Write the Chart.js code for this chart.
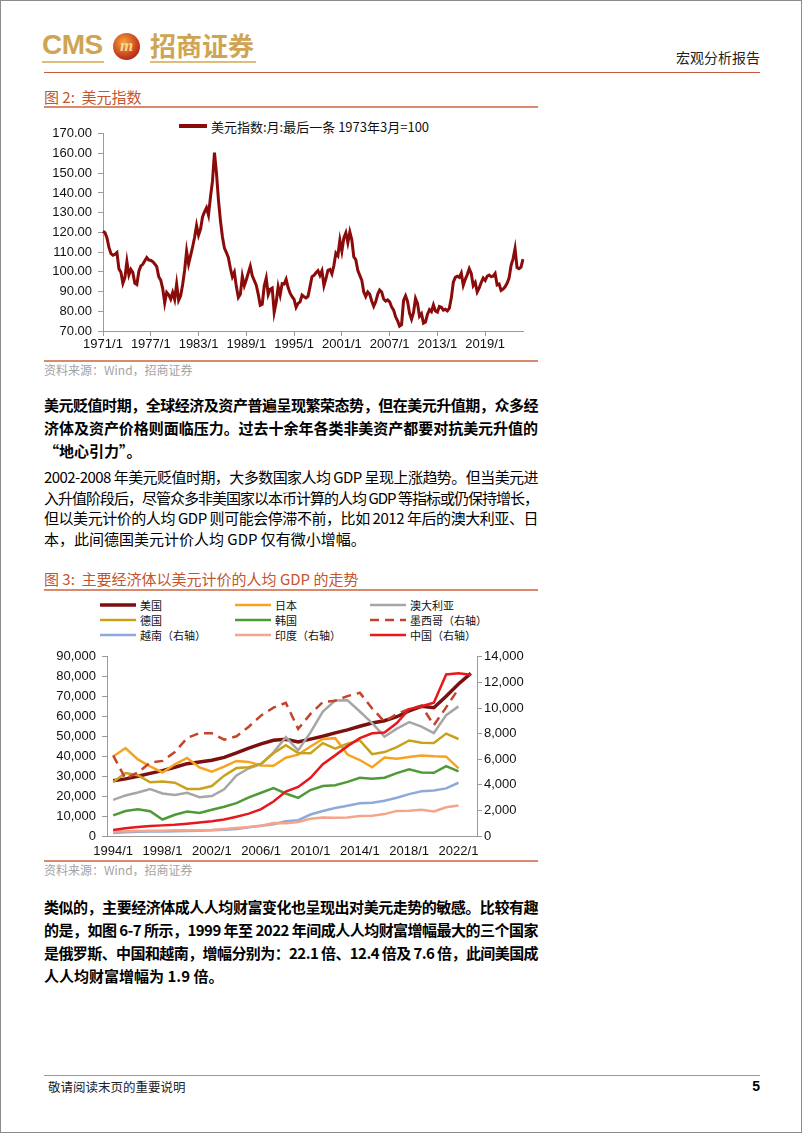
<!DOCTYPE html>
<html lang="zh-CN">
<head>
<meta charset="utf-8">
<title>宏观分析报告 - 美元指数与人均GDP</title>
<script src="https://cdn.jsdelivr.net/npm/chart.js@4.4.1/dist/chart.umd.min.js"></script>
<style>
  html, body { margin: 0; padding: 0; background: #fff; }
  body { font-family: "Noto Sans CJK SC", "Liberation Sans", sans-serif; color: #000; }
  .page { position: relative; width: 802px; height: 1133px; overflow: hidden; box-shadow: inset 0 0 0 1px #8c8c8c; }
  .abs { position: absolute; }
  .rule { position: absolute; left: 44px; width: 494px; height: 2px; background: #d98a6e; }
  .fig-title { position: absolute; left: 44px; font-size: 15px; line-height: 20px; color: #c4552f; }
  .source { position: absolute; left: 44px; font-size: 12px; line-height: 16px; color: #a3a3a3; }
  .para { position: absolute; left: 44px; width: 494px; font-size: 15px; line-height: 23px; }
  .para.bold { font-weight: 700; }
  .para.plain { line-height: 20.7px; }
  .jl { white-space: nowrap; }
  .legend-item { position: absolute; display: flex; align-items: center; height: 14px; font-size: 11px; color: #111; white-space: nowrap; }
  .legend-item svg { margin-right: 4px; }
  canvas { position: absolute; }
</style>
</head>
<body>
<div class="page">
  <!-- header -->
  <div class="abs" style="left:42px;top:29px;font-family:'Liberation Sans',sans-serif;font-weight:700;font-size:28px;line-height:32px;color:#cfa453;letter-spacing:-0.5px;">CMS</div>
  <div class="abs" style="left:42px;top:61px;width:62px;height:2px;background:#dcbd7c;"></div>
  <div class="abs" style="left:113px;top:33px;width:27px;height:27px;border-radius:50%;background:radial-gradient(circle at 40% 35%, #f4a540, #c53a1c 62%, #7a1e0e);color:#f7d98e;font:italic 700 17px 'Liberation Serif',serif;line-height:26px;text-align:center;">m</div>
  <div class="abs" style="left:150px;top:29px;font-weight:700;font-size:26px;line-height:32px;color:#cfa453;">招商证券</div>
  <div class="abs" style="left:150px;top:61px;width:106px;height:2px;background:#dcbd7c;"></div>
  <div class="abs" style="right:42px;top:48px;font-size:14px;line-height:18px;color:#222;">宏观分析报告</div>
  <div class="abs" style="left:44px;top:72px;width:716px;height:1px;background:#c65b45;"></div>

  <!-- figure 2 -->
  <div class="fig-title" style="top:87px;">图 2:&nbsp; 美元指数</div>
  <div class="rule" style="top:106px;"></div>
  <div class="legend-item" id="dxyLegend" style="left:179px;top:118px;font-size:13px;height:16px;"></div>
  <canvas id="dxyChart" width="494" height="240" style="left:44px;top:120px;"></canvas>
  <div class="rule" style="top:360px;"></div>
  <div class="source" style="top:362px;">资料来源：Wind，招商证券</div>

  <div class="para bold" style="top:393px;">
    <div class="jl full"><span>美元贬值时期，全球经济及资产普遍呈现繁荣态势，但在美元升值期，众多经</span></div>
    <div class="jl full"><span>济体及资产价格则面临压力。过去十余年各类非美资产都要对抗美元升值的</span></div>
    <div class="jl"><span>“地心引力”。</span></div>
  </div>

  <div class="para plain" style="top:467px;">
    <div class="jl full"><span>2002-2008 年美元贬值时期，大多数国家人均 GDP 呈现上涨趋势。但当美元进</span></div>
    <div class="jl full"><span>入升值阶段后，尽管众多非美国家以本币计算的人均 GDP 等指标或仍保持增长，</span></div>
    <div class="jl full"><span>但以美元计价的人均 GDP 则可能会停滞不前，比如 2012 年后的澳大利亚、日</span></div>
    <div class="jl"><span>本，此间德国美元计价人均 GDP 仅有微小增幅。</span></div>
  </div>

  <!-- figure 3 -->
  <div class="fig-title" style="top:569px;">图 3:&nbsp; 主要经济体以美元计价的人均 GDP 的走势</div>
  <div class="rule" style="top:589px;"></div>
  <div id="gdpLegend"></div>
  <canvas id="gdpChart" width="494" height="217" style="left:44px;top:643px;"></canvas>
  <div class="rule" style="top:860px;"></div>
  <div class="source" style="top:862px;">资料来源：Wind，招商证券</div>

  <div class="para bold" style="top:895px;">
    <div class="jl full"><span>类似的，主要经济体成人人均财富变化也呈现出对美元走势的敏感。比较有趣</span></div>
    <div class="jl full"><span>的是，如图 6-7 所示，1999 年至 2022 年间成人人均财富增幅最大的三个国家</span></div>
    <div class="jl full"><span>是俄罗斯、中国和越南，增幅分别为：22.1 倍、12.4 倍及 7.6 倍，此间美国成</span></div>
    <div class="jl"><span>人人均财富增幅为 1.9 倍。</span></div>
  </div>

  <!-- footer -->
  <div class="abs" style="left:44px;top:1075px;width:716px;height:1px;background:#9a9a9a;"></div>
  <div class="abs" style="left:48px;top:1078px;font-size:12.5px;line-height:17px;color:#222;">敬请阅读末页的重要说明</div>
  <div class="abs" style="right:42px;top:1077px;font-family:'Liberation Sans',sans-serif;font-weight:700;font-size:14px;line-height:18px;">5</div>
</div>

<script>
// 美元指数（季度取样，月末值）
const dxyValues = [
  120.6, 119.8, 117.2, 112.4, // 1971
  109.2, 108.4, 108.9, 109.8, // 1972
  101.5, 99.8, 94.2, 97.0,    // 1973
  105.2, 98.4, 101.2, 99.6,   // 1974
  94.2, 93.6, 100.2, 103.0,   // 1975
  103.8, 105.6, 107.2, 106.0, // 1976
  105.8, 105.2, 104.0, 102.6, // 1977
  97.5, 95.8, 91.5, 84.2,     // 1978
  89.6, 88.4, 86.2, 89.5,     // 1979
  86.0, 93.8, 85.6, 87.8,     // 1980
  93.5, 100.8, 110.5, 104.0,  // 1981
  108.2, 112.6, 117.4, 123.5, // 1982
  118.6, 121.6, 127.8, 130.4, // 1983
  132.5, 128.8, 138.0, 146.0, // 1984
  160.5, 150.2, 136.5, 126.0, // 1985
  117.8, 112.0, 109.8, 107.2, // 1986
  101.8, 97.5, 99.8, 92.5,    // 1987
  87.0, 88.6, 97.8, 93.0,     // 1988
  96.0, 99.5, 102.8, 98.0,    // 1989
  95.6, 93.2, 88.6, 83.0,     // 1990
  83.5, 92.8, 96.8, 88.5,     // 1991
  91.2, 91.8, 79.5, 84.6,     // 1992
  92.5, 88.2, 94.0, 93.8,     // 1993
  96.2, 92.0, 89.2, 87.4,     // 1994
  86.0, 82.0, 84.0, 84.8,     // 1995
  88.2, 87.4, 86.8, 87.6,     // 1996
  92.5, 97.6, 98.2, 99.5,     // 1997
  100.6, 98.2, 100.5, 93.0,   // 1998
  96.5, 100.8, 101.2, 99.0,   // 1999
  103.2, 109.5, 108.2, 116.0, // 2000
  110.5, 117.2, 119.8, 114.8, // 2001
  120.2, 116.2, 107.6, 106.2, // 2002
  100.8, 98.2, 95.8, 89.8,    // 2003
  87.5, 89.8, 88.6, 85.2,     // 2004
  82.5, 84.8, 88.6, 90.8,     // 2005
  89.8, 86.2, 85.2, 85.8,     // 2006
  84.8, 82.2, 80.6, 77.2,     // 2007
  75.2, 72.5, 73.2, 85.5,     // 2008
  87.8, 85.0, 79.0, 76.0,     // 2009
  79.4, 86.5, 84.0, 77.5,     // 2010
  78.8, 74.0, 74.6, 78.4,     // 2011
  80.8, 79.8, 83.2, 80.2,     // 2012
  79.6, 82.4, 82.0, 80.6,     // 2013
  81.0, 80.2, 81.6, 86.8,     // 2014
  94.8, 97.2, 97.8, 97.2,     // 2015
  99.4, 93.2, 96.2, 98.6,     // 2016
  101.6, 99.2, 93.0, 94.6,    // 2017
  89.8, 91.8, 94.6, 96.8,     // 2018
  95.6, 97.8, 98.4, 97.6,     // 2019
  97.8, 99.2, 93.4, 93.8,     // 2020
  90.6, 91.2, 92.4, 94.2,     // 2021
  96.8, 103.2, 106.6, 111.8,  // 2022
  102.2, 101.6, 102.4, 106.4, // 2023
];
const dxyLabels = [];
for (let year = 1971; year <= 2023; year += 1) {
  [1, 4, 7, 10].forEach((month) => dxyLabels.push(`${year}/${month}`));
}
const dxyYTicks = { min: 70, max: 170, step: 10 };

// 人均 GDP（美元）
const gdpLabels = [];
for (let year = 1994; year <= 2023; year += 1) {
  gdpLabels.push(`${year}/1`);
}
const usaGdp = [27700, 28700, 29970, 31460, 32850, 34510, 36330, 37130, 38020, 39500, 41710, 44110, 46300, 48050, 48570, 47190, 48650, 50070, 51780, 53290, 55120, 56760, 57870, 59910, 62820, 65120, 64410, 70220, 76330, 81700];
const japanGdp = [39930, 44200, 38440, 35020, 31900, 36030, 39170, 34410, 32290, 34810, 37690, 37220, 35430, 35280, 39340, 40860, 44970, 48760, 49150, 40900, 38160, 34520, 39380, 38830, 39730, 40420, 40040, 39830, 34000, null];
const australiaGdp = [18130, 20380, 21860, 23600, 21360, 20560, 21680, 19490, 20080, 23460, 30430, 34010, 36120, 42000, 49600, 43000, 52020, 62520, 68040, 68150, 62510, 56710, 49880, 53930, 57210, 54940, 51720, 60700, 65100, null];
const germanyGdp = [27080, 31660, 30500, 26960, 27340, 26800, 23640, 23610, 25080, 30310, 34110, 34520, 36320, 41590, 45610, 41650, 41530, 46640, 43860, 46300, 48020, 41100, 42140, 44650, 47970, 46790, 46770, 51430, 48720, null];
const koreaGdp = [10390, 12560, 13400, 12400, 8290, 10670, 12260, 11560, 13170, 14670, 16500, 19400, 21740, 24090, 21350, 19140, 23080, 25100, 25460, 27180, 29250, 28730, 29290, 31600, 33450, 31900, 31720, 35140, 32420, null];
const mexicoGdp = [6290, 4480, 4960, 5730, 5870, 6560, 7660, 8040, 8030, 7530, 7790, 8540, 9420, 10030, 10400, 8370, 9540, 10460, 10560, 10930, 11190, 9960, 8940, 9540, 9920, 10180, 8660, 10050, 11500, null];
const vietnamGdp = [230, 290, 340, 360, 360, 370, 390, 410, 440, 490, 550, 690, 800, 920, 1150, 1230, 1680, 1950, 2190, 2370, 2560, 2600, 2760, 2990, 3270, 3490, 3550, 3720, 4160, null];
const indiaGdp = [350, 370, 400, 410, 410, 440, 440, 450, 470, 540, 620, 710, 800, 1020, 990, 1100, 1350, 1450, 1430, 1440, 1560, 1590, 1710, 1960, 1970, 2050, 1910, 2250, 2390, null];
const chinaGdp = [470, 610, 710, 780, 830, 870, 960, 1050, 1150, 1290, 1510, 1750, 2100, 2690, 3470, 3830, 4550, 5610, 6300, 7020, 7640, 8020, 8090, 8820, 9910, 10140, 10410, 12620, 12720, 12600];
const gdpLeftTicks = { min: 0, max: 90000, step: 10000 };
const gdpRightTicks = { min: 0, max: 14000, step: 2000 };

const palette = {
  dxy: '#8b0a0a',
  usa: '#7b1010',
  japan: '#f7a31f',
  australia: '#a6a6a6',
  germany: '#c9a21c',
  korea: '#4e9a38',
  mexico: '#c4432b',
  vietnam: '#8eaadb',
  india: '#f4a58a',
  china: '#e8171e',
  axis: '#9a9a9a',
  text: '#111',
};

const numberFormatter = new Intl.NumberFormat('en-US');

Chart.defaults.font.family = '"Liberation Sans", Arial, "Noto Sans CJK SC", sans-serif';
Chart.defaults.font.size = 13;
Chart.defaults.color = palette.text;

// justify each text line to the column width
document.querySelectorAll('.jl.full').forEach((line) => {
  const span = line.querySelector('span');
  const textWidth = span.getBoundingClientRect().width;
  const count = span.textContent.length;
  span.style.letterSpacing = `${(494 - textWidth) / count}px`;
});

function lineSample(color, width, dash, length) {
  const dashAttr = dash ? ` stroke-dasharray="${dash.join(',')}"` : '';
  return `<svg width="${length}" height="8"><line x1="0" y1="4" x2="${length}" y2="4" stroke="${color}" stroke-width="${width}"${dashAttr}/></svg>`;
}

const dxyCanvas = document.getElementById('dxyChart');
const dxyChart = new Chart(dxyCanvas.getContext('2d'), {
  type: 'line',
  data: {
    labels: dxyLabels,
    datasets: [
      {
        label: '美元指数:月:最后一条 1973年3月=100',
        data: dxyValues,
        borderColor: palette.dxy,
        backgroundColor: palette.dxy,
        borderWidth: 3,
        pointRadius: 0,
        tension: 0,
        fill: false,
      },
    ],
  },
  options: {
    responsive: false,
    animation: false,
    devicePixelRatio: 1,
    layout: { padding: { top: 13, right: 15, left: 0, bottom: 0 } },
    plugins: { legend: { display: false }, tooltip: { enabled: false } },
    scales: {
      x: {
        offset: false,
        grid: { display: true, drawOnChartArea: false, drawTicks: true, tickLength: 5, color: palette.axis },
        border: { display: true, color: palette.axis },
        ticks: {
          autoSkip: false,
          maxRotation: 0,
          minRotation: 0,
          padding: 1,
          callback(value, index) {
            return index % 24 === 0 ? this.getLabelForValue(value) : null;
          },
        },
        afterFit(scale) { scale.height = 29; },
      },
      y: {
        min: dxyYTicks.min,
        max: dxyYTicks.max,
        grid: { display: true, drawOnChartArea: false, drawTicks: true, tickLength: 5, color: palette.axis },
        border: { display: true, color: palette.axis },
        ticks: {
          stepSize: dxyYTicks.step,
          padding: 6,
          callback(value) { return value.toFixed(2); },
        },
        afterFit(scale) { scale.width = 59; },
      },
    },
  },
});

const dxySet = dxyChart.data.datasets[0];
document.getElementById('dxyLegend').innerHTML = `${lineSample(dxySet.borderColor, 4, null, 28)}<span>${dxySet.label}</span>`;

const gdpSeries = [
  { label: '美国', data: usaGdp, color: palette.usa, axis: 'y', width: 3.5 },
  { label: '日本', data: japanGdp, color: palette.japan, axis: 'y', width: 2.5 },
  { label: '澳大利亚', data: australiaGdp, color: palette.australia, axis: 'y', width: 2.5 },
  { label: '德国', data: germanyGdp, color: palette.germany, axis: 'y', width: 2.5 },
  { label: '韩国', data: koreaGdp, color: palette.korea, axis: 'y', width: 2.5 },
  { label: '墨西哥（右轴）', data: mexicoGdp, color: palette.mexico, axis: 'y1', width: 2.5, dash: [9, 6] },
  { label: '越南（右轴）', data: vietnamGdp, color: palette.vietnam, axis: 'y1', width: 2.5 },
  { label: '印度（右轴）', data: indiaGdp, color: palette.india, axis: 'y1', width: 2.5 },
  { label: '中国（右轴）', data: chinaGdp, color: palette.china, axis: 'y1', width: 2.5 },
];

const gdpCanvas = document.getElementById('gdpChart');
new Chart(gdpCanvas.getContext('2d'), {
  type: 'line',
  data: {
    labels: gdpLabels,
    datasets: gdpSeries.map((series, index) => ({
      label: series.label,
      data: series.data,
      yAxisID: series.axis,
      borderColor: series.color,
      backgroundColor: series.color,
      borderWidth: series.width,
      borderDash: series.dash || [],
      pointRadius: 0,
      tension: 0,
      fill: false,
      order: gdpSeries.length - index,
    })),
  },
  options: {
    responsive: false,
    animation: false,
    devicePixelRatio: 1,
    layout: { padding: { top: 8, right: 0, left: 0, bottom: 0 } },
    plugins: { legend: { display: false }, tooltip: { enabled: false } },
    scales: {
      x: {
        offset: true,
        grid: { display: true, drawOnChartArea: false, drawTicks: false, color: palette.axis },
        border: { display: true, color: palette.axis },
        ticks: {
          autoSkip: false,
          maxRotation: 0,
          minRotation: 0,
          padding: 8,
          callback(value, index) {
            return index % 4 === 0 ? this.getLabelForValue(value) : null;
          },
        },
        afterFit(scale) { scale.height = 24; },
      },
      y: {
        position: 'left',
        min: gdpLeftTicks.min,
        max: gdpLeftTicks.max,
        grid: { display: true, drawOnChartArea: false, drawTicks: true, tickLength: 5, color: palette.axis },
        border: { display: true, color: palette.axis },
        ticks: {
          stepSize: gdpLeftTicks.step,
          padding: 6,
          callback(value) { return numberFormatter.format(value); },
        },
        afterFit(scale) { scale.width = 63; },
      },
      y1: {
        position: 'right',
        min: gdpRightTicks.min,
        max: gdpRightTicks.max,
        grid: { display: true, drawOnChartArea: false, drawTicks: true, tickLength: 5, color: palette.axis },
        border: { display: true, color: palette.axis },
        ticks: {
          stepSize: gdpRightTicks.step,
          padding: 2,
          callback(value) { return numberFormatter.format(value); },
        },
        afterFit(scale) { scale.width = 61; },
      },
    },
  },
});

// three-column legend like the original figure
const legendColumns = [100, 235, 370];
const legendRows = [598, 613, 628];
const gdpLegend = document.getElementById('gdpLegend');
gdpSeries.forEach((series, index) => {
  const item = document.createElement('div');
  item.className = 'legend-item';
  item.style.left = `${legendColumns[index % 3]}px`;
  item.style.top = `${legendRows[Math.floor(index / 3)]}px`;
  item.innerHTML = `${lineSample(series.color, series.width, series.dash, 36)}<span>${series.label}</span>`;
  gdpLegend.appendChild(item);
});
</script>
</body>
</html>
